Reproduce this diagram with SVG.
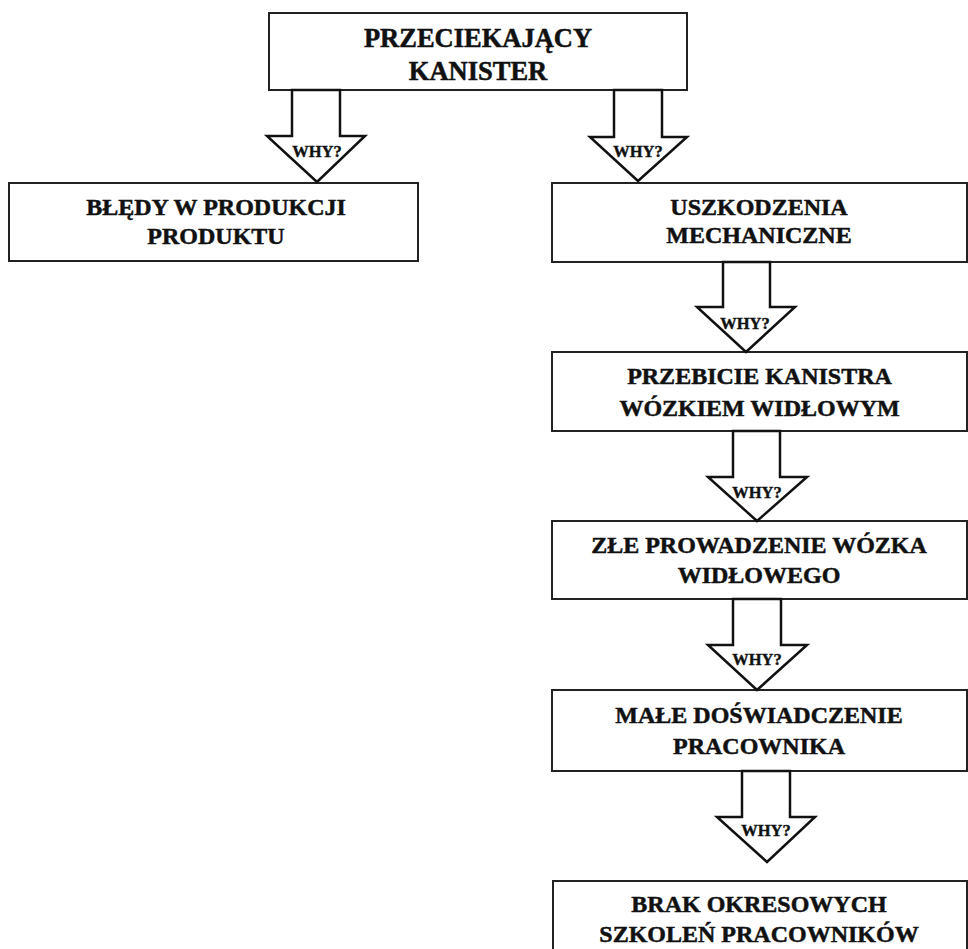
<svg xmlns="http://www.w3.org/2000/svg" width="968" height="949" viewBox="0 0 968 949">
<style>
.box{fill:#fff;stroke:#222;stroke-width:2}
.arr{fill:#fff;stroke:#111;stroke-width:2.5;stroke-linejoin:miter}
.t{font-family:"Liberation Serif","Times New Roman",serif;font-weight:bold;font-size:24px;fill:#111;stroke:#111;stroke-width:0.5;text-anchor:middle}
.big{font-size:26.5px}
.why{font-family:"Liberation Serif","Times New Roman",serif;font-weight:bold;font-size:16.5px;fill:#111;stroke:#111;stroke-width:0.4;text-anchor:middle}
</style>
<rect width="968" height="949" fill="#fff"/>
<g id="n0"><rect class="box" x="269" y="13" width="418" height="77"/>
<text class="t big" x="478" y="47">PRZECIEKAJĄCY</text><text class="t big" x="478" y="80">KANISTER</text></g>
<g id="n1"><rect class="box" x="9" y="183" width="409" height="78"/>
<text class="t" x="216" y="215">BŁĘDY W PRODUKCJI</text><text class="t" x="216" y="244">PRODUKTU</text></g>
<g id="n2"><rect class="box" x="552" y="183" width="415" height="79"/>
<text class="t" x="759" y="215">USZKODZENIA</text><text class="t" x="759" y="243">MECHANICZNE</text></g>
<g id="n3"><rect class="box" x="552" y="352" width="415" height="79"/>
<text class="t" x="759.5" y="384">PRZEBICIE KANISTRA</text><text class="t" x="759.5" y="416">WÓZKIEM WIDŁOWYM</text></g>
<g id="n4"><rect class="box" x="552" y="521" width="415" height="78"/>
<text class="t" x="759" y="553">ZŁE PROWADZENIE WÓZKA</text><text class="t" x="759" y="583">WIDŁOWEGO</text></g>
<g id="n5"><rect class="box" x="552" y="690" width="415" height="81"/>
<text class="t" x="759" y="723">MAŁE DOŚWIADCZENIE</text><text class="t" x="759" y="754">PRACOWNIKA</text></g>
<g id="n6"><rect class="box" x="553" y="881" width="414" height="80"/>
<text class="t" x="759" y="912">BRAK OKRESOWYCH</text><text class="t" x="759" y="942">SZKOLEŃ PRACOWNIKÓW</text></g>
<g id="connectors">
<g id="a1"><path class="arr" d="M292,90 L340,90 L340,136 L365,136 L317,182 L267,136 L292,136 Z"/><text class="why" x="317" y="157">WHY?</text></g>
<g id="a2"><path class="arr" d="M614,90 L662,90 L662,137 L687,137 L638,181 L590,137 L614,137 Z"/><text class="why" x="638" y="157">WHY?</text></g>
<g id="a3"><path class="arr" d="M723,262 L770,262 L770,307 L795,307 L746,352 L697,307 L723,307 Z"/><text class="why" x="745" y="329">WHY?</text></g>
<g id="a4"><path class="arr" d="M733,431 L780,431 L780,477 L807,477 L757,521 L708,477 L733,477 Z"/><text class="why" x="757" y="498">WHY?</text></g>
<g id="a5"><path class="arr" d="M733,599 L781,599 L781,645 L807,645 L757,690 L708,645 L733,645 Z"/><text class="why" x="757" y="665">WHY?</text></g>
<g id="a6"><path class="arr" d="M742,771 L790,771 L790,817 L815,817 L767,862 L717,817 L742,817 Z"/><text class="why" x="766" y="836">WHY?</text></g>
</g>
</svg>
